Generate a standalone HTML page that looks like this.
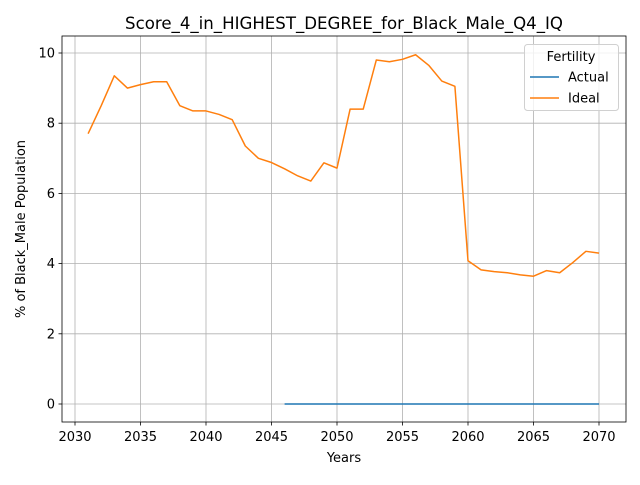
<!DOCTYPE html>
<html><head><meta charset="utf-8"><style>body{margin:0;background:#fff}svg{font-family:"DejaVu Sans","Liberation Sans",sans-serif}</style></head>
<body>
<svg id="c" width="640" height="480" xmlns="http://www.w3.org/2000/svg"></svg>
<script>
const idealYears=[2031,2032,2033,2034,2035,2036,2037,2038,2039,2040,2041,2042,2043,2044,2045,2046,2047,2048,2049,2050,2051,2052,2053,2054,2055,2056,2057,2058,2059,2060,2061,2062,2063,2064,2065,2066,2067,2068,2069,2070];
const idealValues=[7.7,8.5,9.35,9.0,9.1,9.18,9.18,8.5,8.35,8.35,8.25,8.1,7.35,7.0,6.88,6.7,6.5,6.35,6.87,6.72,8.4,8.4,9.8,9.75,9.82,9.95,9.65,9.2,9.05,4.08,3.82,3.77,3.74,3.68,3.64,3.8,3.74,4.03,4.35,4.3];
const actualYears=[2046,2047,2048,2049,2050,2051,2052,2053,2054,2055,2056,2057,2058,2059,2060,2061,2062,2063,2064,2065,2066,2067,2068,2069,2070];
const actualValues=[0,0,0,0,0,0,0,0,0,0,0,0,0,0,0,0,0,0,0,0,0,0,0,0,0];
const xTicks=[2030,2035,2040,2045,2050,2055,2060,2065,2070];
const yTicks=[0,2,4,6,8,10];
const L=62,R=626,T=36,B=422;
const sx=v=>75+(v-2030)*(599-75)/40;
const sy=v=>404-v*(404-53)/10;
const svg=document.getElementById('c');const NS='http://www.w3.org/2000/svg';
function mk(t,a,txt){const e=document.createElementNS(NS,t);for(const k in a)e.setAttribute(k,a[k]);if(txt!==undefined)e.textContent=txt;svg.appendChild(e);return e;}
xTicks.forEach(t=>{const x=sx(t);
const g=mk('line',{x1:x,x2:x,y1:T,y2:B,stroke:'#b0b0b0','stroke-width':0.8});


mk('line',{x1:x,x2:x,y1:B,y2:B+3.5,stroke:'#000','stroke-width':0.8});
const l=mk('text',{x:x,y:B+19,'font-size':13,'text-anchor':'middle'},t);

});
yTicks.forEach(t=>{const y=sy(t);
const g=mk('line',{x1:L,x2:R,y1:y,y2:y,stroke:'#b0b0b0','stroke-width':0.8});


mk('line',{x1:L-3.5,x2:L,y1:y,y2:y,stroke:'#000','stroke-width':0.8});
const l=mk('text',{x:L-7,y:y+4.5,'font-size':13,'text-anchor':'end'},t);

});
const a=mk('polyline',{points:actualYears.map((y,i)=>sx(y)+','+sy(actualValues[i])).join(' '),fill:'none',stroke:'#1f77b4','stroke-width':1.5});


const p=mk('polyline',{points:idealYears.map((y,i)=>sx(y)+','+sy(idealValues[i])).join(' '),fill:'none',stroke:'#ff7f0e','stroke-width':1.5,'stroke-linejoin':'round'});


const f=mk('rect',{x:L,y:T,width:R-L,height:B-T,fill:'none',stroke:'#000','stroke-width':0.8});


</script>
<svg width="640" height="480" style="position:absolute;left:0;top:0" xmlns="http://www.w3.org/2000/svg" font-family="DejaVu Sans, Liberation Sans, sans-serif">
<text x="344" y="29" font-size="16.6" text-anchor="middle">Score_4_in_HIGHEST_DEGREE_for_Black_Male_Q4_IQ</text>
<text x="344" y="462" font-size="13" text-anchor="middle">Years</text>
<text x="25" y="229" font-size="13" text-anchor="middle" transform="rotate(-90 25 229)">% of Black_Male Population</text>
<g>
<rect x="524.5" y="44.5" width="94" height="66" rx="3" fill="#fff" fill-opacity="0.8" stroke="#d0d0d0"/>
<text x="571" y="61" font-size="13" text-anchor="middle">Fertility</text>
<line x1="530" x2="559" y1="77" y2="77" stroke="#1f77b4" stroke-width="1.5"/>
<text x="568" y="81.5" font-size="13">Actual</text>
<line x1="530" x2="559" y1="98" y2="98" stroke="#ff7f0e" stroke-width="1.5"/>
<text x="568" y="102.5" font-size="13">Ideal</text>
</g>
</svg>
</body></html>
